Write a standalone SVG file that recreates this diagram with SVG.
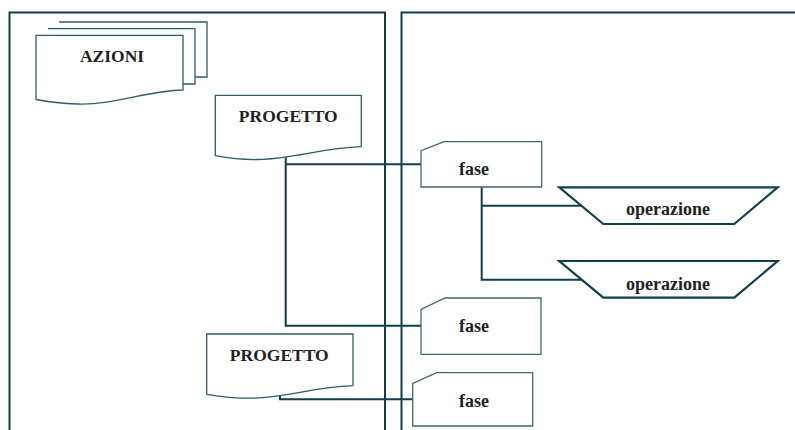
<svg xmlns="http://www.w3.org/2000/svg" width="795" height="430" viewBox="0 0 795 430">
<style>
.panel{fill:none;stroke:#103f4c;stroke-width:2}
.doc{fill:#fff;stroke:#2f5d69;stroke-width:1.3}
.fase{fill:#fff;stroke:#3e6873;stroke-width:1.3}
.op{fill:#fff;stroke:#103f4c;stroke-width:2.2}
.conn{fill:none;stroke:#103f4c;stroke-width:2}
text{font-family:"Liberation Serif","DejaVu Serif",serif;font-weight:bold;fill:#222;text-anchor:middle}
.big{font-size:17.5px}
.small{font-size:18px}
</style>
<rect width="795" height="430" fill="#fff"/>
<g id="panels">
<rect class="panel" x="9.5" y="12.5" width="375.5" height="440"/>
<rect class="panel" x="401.5" y="12.5" width="420" height="440"/>
</g>
<g id="connectors">
<path class="conn" d="M285.7,156 V325.7 H421"/>
<path class="conn" d="M285.7,164.3 H421"/>
<path class="conn" d="M481.7,187 V279.7 H581.7"/>
<path class="conn" d="M481.7,205.7 H581.7"/>
<path class="conn" d="M280,396 V399.3 H412.7"/>
</g>
<g id="azioni">
<path class="doc" d="M59,22 H207 V77 H195"/>
<path class="doc" d="M48,28.7 H195 V84 H183"/>
<path class="doc" d="M36,35.3 H183 V90 C145,91 115,105 78,104 C58,103.5 46,101.5 36,99.5 Z"/>
<text class="big" x="112" y="61.5">AZIONI</text>
</g>
<g id="progetto1">
<path class="doc" d="M215.3,95.3 H361.3 V146.7 C320,148 295,159 258,159.5 C240,160 228,158 215.3,155.7 Z"/>
<text class="big" x="288.3" y="122">PROGETTO</text>
</g>
<g id="progetto2">
<path class="doc" d="M206.7,334 H353 V385.7 C312,387 288,397.5 252,398.2 C234,398.5 220,396.5 206.7,394.3 Z"/>
<text class="big" x="279.3" y="360.7">PROGETTO</text>
</g>
<g id="fase1">
<path class="fase" d="M444,141.7 H541.7 V187 H421 V150.7 Z"/>
<text class="small" x="474" y="175">fase</text>
</g>
<g id="fase2">
<path class="fase" d="M445,298 H541 V354.3 H421 V309.3 Z"/>
<text class="small" x="474" y="331.7">fase</text>
</g>
<g id="fase3">
<path class="fase" d="M436.7,372.7 H532.7 V426 H412.7 V383.3 Z"/>
<text class="small" x="474" y="406.7">fase</text>
</g>
<g id="operazione1">
<path class="op" d="M559.3,187.3 H777.7 L734.3,224 H603.3 Z"/>
<text class="small" x="668" y="214.5">operazione</text>
</g>
<g id="operazione2">
<path class="op" d="M559.3,261 H777.7 L734.3,297.7 H603.3 Z"/>
<text class="small" x="668" y="289.5">operazione</text>
</g>
</svg>
